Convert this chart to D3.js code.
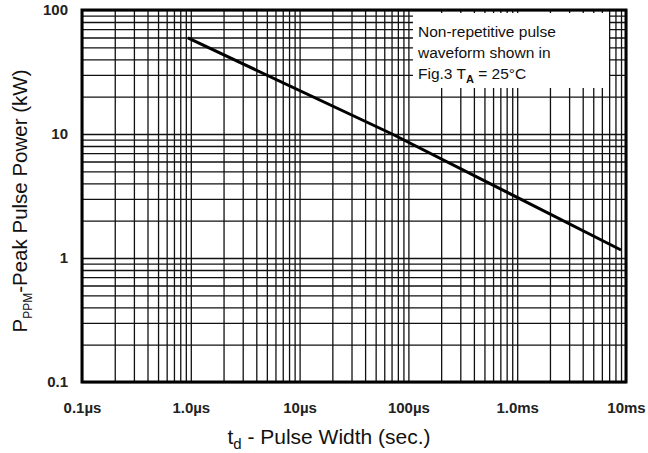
<!DOCTYPE html>
<html>
<head>
<meta charset="utf-8">
<script src="https://cdn.jsdelivr.net/npm/d3@7"></script>
<style>
  body { margin: 0; background: #fff; }
  svg { font-family: "Liberation Sans", Arial, sans-serif; }
</style>
</head>
<body>
<div id="chart"></div>
<script>
// Data (pulse width in microseconds, power in kW)
var pulseWidthUs = [0.94, 70.8, 9000];
var peakPowerKw = [59.5, 10, 1.16];

var xTickValues = [0.1, 1, 10, 100, 1000, 10000];
var xTickLabels = ["0.1µs", "1.0µs", "10µs", "100µs", "1.0ms", "10ms"];
var yTickValues = [0.1, 1, 10, 100];
var yTickLabels = ["0.1", "1", "10", "100"];

var svgWidth = 648;
var svgHeight = 453;
var margin = { top: 10, right: 22, bottom: 71, left: 82 };
var width = svgWidth - margin.left - margin.right;
var height = svgHeight - margin.top - margin.bottom;

var svg = d3.select("#chart")
  .append("svg")
  .attr("width", svgWidth)
  .attr("height", svgHeight);

var chartGroup = svg.append("g")
  .attr("transform", `translate(${margin.left}, ${margin.top})`);

var xScale = d3.scaleLog().domain([0.1, 10000]).range([0, width]);
var yScale = d3.scaleLog().domain([0.1, 100]).range([height, 0]);

// minor grid: 1..9 in every decade
function gridValues(domain) {
  var vals = [];
  for (var d = domain[0]; d < domain[1]; d *= 10) {
    for (var k = 1; k <= 9; k++) vals.push(+(d * k).toPrecision(3));
  }
  vals.push(domain[1]);
  return vals;
}

var xGrid = chartGroup.append("g")
  .attr("transform", `translate(0, ${height})`)
  .call(d3.axisBottom(xScale).tickValues(gridValues(xScale.domain()))
    .tickSize(-height).tickFormat(""));
var yGrid = chartGroup.append("g")
  .call(d3.axisLeft(yScale).tickValues(gridValues(yScale.domain()))
    .tickSize(-width).tickFormat(""));

[xGrid, yGrid].forEach(function(g) {
  g.select(".domain").remove();
  g.selectAll("line").attr("stroke", "#111").attr("stroke-width", 1.3);
});

// note box covering the grid
chartGroup.append("rect")
  .attr("x", 331).attr("y", 3)
  .attr("width", 196).attr("height", 75)
  .attr("fill", "#fff");

var note = chartGroup.append("text")
  .attr("font-size", 15.5)
  .attr("fill", "#111");
note.append("tspan").attr("x", 336).attr("y", 27).text("Non-repetitive pulse");
note.append("tspan").attr("x", 336).attr("y", 48).text("waveform shown in");
note.append("tspan").attr("x", 336).attr("y", 69).text("Fig.3 T");
note.append("tspan").attr("dy", 4).attr("font-size", 11).attr("font-weight", "bold").text("A");
note.append("tspan").attr("dy", -4).text(" = 25°C");

// frame
chartGroup.append("rect")
  .attr("width", width).attr("height", height)
  .attr("fill", "none").attr("stroke", "#000").attr("stroke-width", 3);

// curve
var line = d3.line()
  .x(function(d, i) { return xScale(pulseWidthUs[i]); })
  .y(function(d) { return yScale(d); });

chartGroup.append("path")
  .datum(peakPowerKw)
  .attr("d", line)
  .attr("fill", "none")
  .attr("stroke", "#000")
  .attr("stroke-width", 3);

// tick labels
var xAxis = chartGroup.append("g")
  .attr("transform", `translate(0, ${height})`)
  .call(d3.axisBottom(xScale).tickValues(xTickValues)
    .tickSize(0).tickPadding(20)
    .tickFormat(function(d, i) { return xTickLabels[i]; }));
var yAxis = chartGroup.append("g")
  .call(d3.axisLeft(yScale).tickValues(yTickValues)
    .tickSize(0).tickPadding(14)
    .tickFormat(function(d, i) { return yTickLabels[i]; }));

[xAxis, yAxis].forEach(function(g) {
  g.select(".domain").remove();
  g.selectAll("text")
    .attr("font-family", "Liberation Sans, Arial, sans-serif")
    .attr("font-size", 15)
    .attr("font-weight", "bold")
    .attr("fill", "#222");
});

// axis titles
var xTitle = svg.append("text")
  .attr("x", 329).attr("y", 444)
  .attr("text-anchor", "middle")
  .attr("font-size", 21)
  .attr("fill", "#111");
xTitle.append("tspan").text("t");
xTitle.append("tspan").attr("dy", 5).attr("font-size", 15).text("d");
xTitle.append("tspan").attr("dy", -5).text(" - Pulse Width (sec.)");

var yTitle = svg.append("text")
  .attr("transform", "translate(27, 201) rotate(-90)")
  .attr("text-anchor", "middle")
  .attr("font-size", 20.5)
  .attr("fill", "#111");
yTitle.append("tspan").text("P");
yTitle.append("tspan").attr("dy", 5).attr("font-size", 12).text("PPM");
yTitle.append("tspan").attr("dy", -5).text("-Peak Pulse Power (kW)");
</script>
</body>
</html>
